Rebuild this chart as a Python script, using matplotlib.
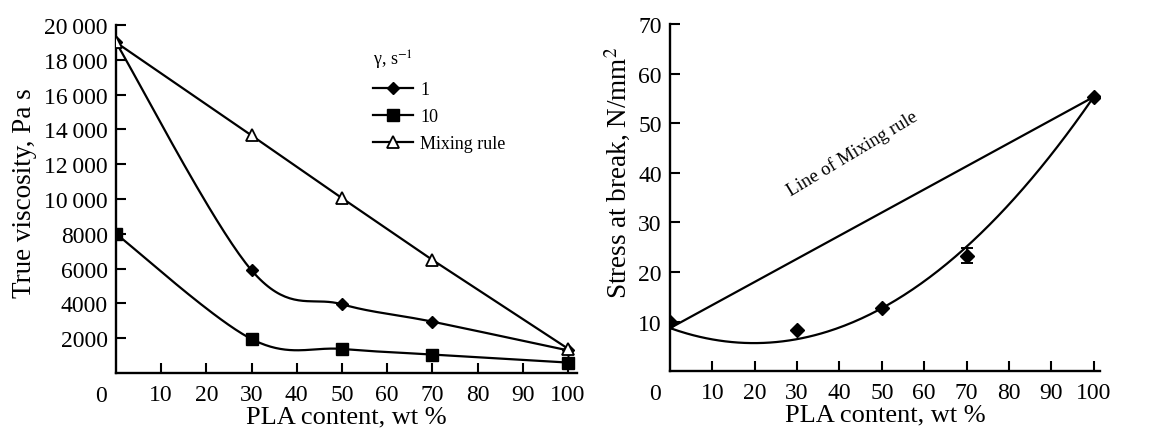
import numpy as np
import matplotlib
matplotlib.use("Agg")
import matplotlib.pyplot as plt
from matplotlib.ticker import FixedLocator, FixedFormatter

plt.rcParams["font.family"] = ["Liberation Serif", "DejaVu Serif"]
plt.rcParams["mathtext.fontset"] = "stix"

# viscosity panel
pla = [0, 30, 50, 70, 100]
visc_1 = [19000, 5900, 3950, 2950, 1300]
visc_10 = [8000, 1950, 1380, 1060, 600]
visc_mix = [19000, 13650, 10050, 6500, 1400]
visc_ticks = [2000, 4000, 6000, 8000, 10000, 12000, 14000, 16000, 18000, 20000]
visc_ticklabels = ["2000", "4000", "6000", "8000", "10\u2009000", "12\u2009000",
                   "14\u2009000", "16\u2009000", "18\u2009000", "20\u2009000"]

# stress panel
stress = [10.0, 8.3, 12.8, 23.3, 55.2]
stress_err = [0, 0, 0, 1.5, 0]
trend_x = [0, 20, 30, 50, 70, 100]
trend_y = [8.7, 5.7, 6.5, 12.7, 25.1, 55.3]
mix_x = [0, 100]
mix_y = [8.7, 55.3]
x_ticks = [10, 20, 30, 40, 50, 60, 70, 80, 90, 100]


def smooth(xs, ys, n=40):
    # Bezier smoothing through points (spreadsheet style)
    p = np.column_stack([xs, ys]).astype(float)
    pts = []
    for i in range(len(p) - 1):
        p0 = p[i - 1] if i > 0 else p[i]
        p3 = p[i + 2] if i + 2 < len(p) else p[i + 1]
        c1 = p[i] + (p[i + 1] - p0) / 6
        c2 = p[i + 1] - (p3 - p[i]) / 6
        t = np.linspace(0, 1, n)[:, None]
        seg = ((1 - t) ** 3 * p[i] + 3 * (1 - t) ** 2 * t * c1
               + 3 * (1 - t) * t ** 2 * c2 + t ** 3 * p[i + 1])
        pts.append(seg)
    out = np.vstack(pts)
    return out[:, 0], out[:, 1]


fig = plt.figure(figsize=(11.71, 4.31), dpi=100)
ax1 = fig.add_axes([116 / 1171, 1 - 374 / 431, (577 - 116) / 1171, (374 - 26) / 431])
ax2 = fig.add_axes([670 / 1171, 1 - 372.3 / 431, (1100 - 670) / 1171, (372.3 - 25) / 431])

lw = 1.6
for ax in (ax1, ax2):
    for s in ("top", "right"):
        ax.spines[s].set_visible(False)
    for s in ("left", "bottom"):
        ax.spines[s].set_linewidth(1.7)
    ax.tick_params(direction="in", length=7, width=1.5, labelsize=17, pad=6)
    ax.tick_params(axis="x", pad=8)
    ax.xaxis.set_major_locator(FixedLocator(x_ticks))
    ax.set_xlabel("PLA content, wt %", fontsize=19, labelpad=0)
    ax.annotate("0", xy=(0, 0), xycoords="axes fraction", xytext=(-15, -22),
                textcoords="offset pixels", ha="center", va="center", fontsize=17)

# left
sx, sy = smooth(pla, visc_1)
ax1.plot(sx, sy, color="black", lw=lw)
ax1.plot(pla, visc_1, "D", color="black", ms=6.5)
sx, sy = smooth(pla, visc_10)
ax1.plot(sx, sy, color="black", lw=lw)
ax1.plot(pla, visc_10, "s", color="black", ms=8.5)
ax1.plot(pla, visc_mix, "-^", color="black", lw=lw, ms=9, mfc="white", mew=1.3,
         zorder=3)
ax1.set_xlim(0, 102)
ax1.set_ylim(0, 20000)
ax1.yaxis.set_major_locator(FixedLocator(visc_ticks))
ax1.yaxis.set_major_formatter(FixedFormatter(visc_ticklabels))
ax1.set_ylabel("True viscosity, Pa s", fontsize=19.5)
ax1.yaxis.set_label_coords(-0.172, 0.52)

h = [plt.Line2D([], [], color="black", lw=lw, marker="D", ms=6.5),
     plt.Line2D([], [], color="black", lw=lw, marker="s", ms=8.5),
     plt.Line2D([], [], color="black", lw=lw, marker="^", ms=8, mfc="white", mew=1.3)]
ax1.legend(h, ["1", "10", "Mixing rule"], title="\u03b3, s$^{-1}$",
           loc="upper left", bbox_to_anchor=(373 / 1171, 1 - 49 / 431),
           bbox_transform=fig.transFigure, frameon=False, fontsize=13,
           title_fontsize=13, borderpad=0, borderaxespad=0,
           handlelength=2.2, handletextpad=0.4, labelspacing=0.55,
           alignment="left")

# right
coef = np.polyfit(trend_x, trend_y, 2)
xc = np.linspace(0, 100, 200)
ax2.plot(xc, np.polyval(coef, xc), color="black", lw=lw)
ax2.plot(mix_x, mix_y, color="black", lw=lw)
ax2.errorbar(pla, stress, yerr=stress_err, fmt="D", color="black", ms=7.5,
             capsize=4, elinewidth=1.4, capthick=1.4)
ax2.set_xlim(0, 101.5)
ax2.set_ylim(0, 70)
ax2.yaxis.set_major_locator(FixedLocator([10, 20, 30, 40, 50, 60, 70]))
ax2.set_ylabel("Stress at break, N/mm$^2$", fontsize=19.5)
ax2.yaxis.set_label_coords(-0.086, 0.574)
ax2.text(43, 44, "Line of Mixing rule", rotation=31, fontsize=13.5,
         ha="center", va="center")

fig.savefig("out.png", dpi=100)
